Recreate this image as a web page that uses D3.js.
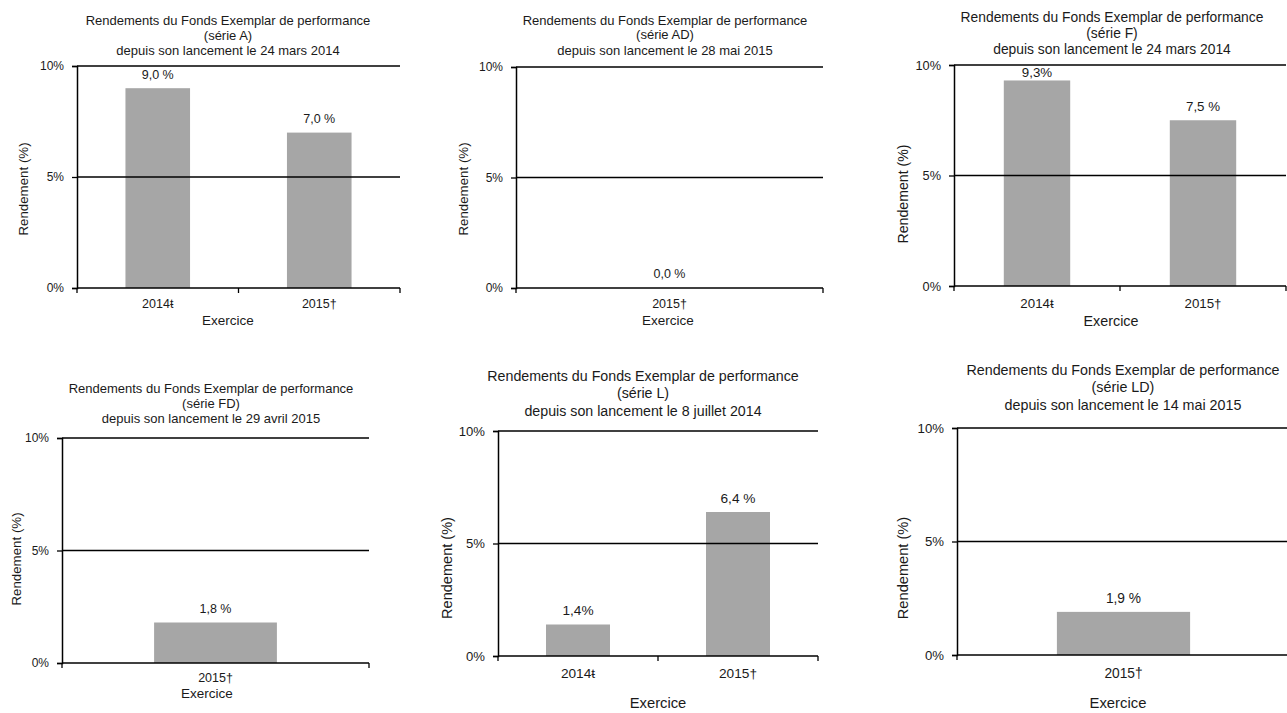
<!DOCTYPE html>
<html>
<head>
<meta charset="utf-8">
<script src="https://cdn.jsdelivr.net/npm/d3@7"></script>
<style>
  html, body { margin: 0; padding: 0; background: #fff; }
  svg { display: block; }
  text { font-family: "Liberation Sans", Arial, sans-serif; fill: #1a1a1a; }
</style>
</head>
<body>
<svg id="chart" width="1287" height="713"></svg>
<script>
// ---------- DATA ----------
const titleLine1 = "Rendements du Fonds Exemplar de performance";
const seriesNames = ["(série A)", "(série AD)", "(série F)", "(série FD)", "(série L)", "(série LD)"];
const launchDates = [
  "depuis son lancement le 24 mars 2014",
  "depuis son lancement le 28 mai 2015",
  "depuis son lancement le 24 mars 2014",
  "depuis son lancement le 29 avril 2015",
  "depuis son lancement le 8 juillet 2014",
  "depuis son lancement le 14 mai 2015"
];
const categoriesA  = ["2014ŧ", "2015†"];
const categoriesAD = ["2015†"];
const categoriesF  = ["2014ŧ", "2015†"];
const categoriesFD = ["2015†"];
const categoriesL  = ["2014ŧ", "2015†"];
const categoriesLD = ["2015†"];
const valuesA  = [9.0, 7.0];
const valuesAD = [0.0];
const valuesF  = [9.3, 7.5];
const valuesFD = [1.8];
const valuesL  = [1.4, 6.4];
const valuesLD = [1.9];
const labelsA  = ["9,0 %", "7,0 %"];
const labelsAD = ["0,0 %"];
const labelsF  = ["9,3%", "7,5 %"];
const labelsFD = ["1,8 %"];
const labelsL  = ["1,4%", "6,4 %"];
const labelsLD = ["1,9 %"];
const yTickValues = [0, 5, 10];
const yTickLabels = ["0%", "5%", "10%"];
const xAxisTitle = "Exercice";
const yAxisTitle = "Rendement (%)";

const panelCategories = [categoriesA, categoriesAD, categoriesF, categoriesFD, categoriesL, categoriesLD];
const panelValues = [valuesA, valuesAD, valuesF, valuesFD, valuesL, valuesLD];
const panelLabels = [labelsA, labelsAD, labelsF, labelsFD, labelsL, labelsLD];

// ---------- LAYOUT (style only) ----------
const layouts = [
  {x0:77,  x1:400,  y0:288, y1:66,  s:1.0,   tX:228,  tY:[20,35,50],    ylX:23,  ylY:189, catY:304, exX:228,  exY:320},
  {x0:516, x1:823,  y0:288, y1:67,  s:1.0,   tX:665,  tY:[20,34,50],    ylX:463, ylY:189, catY:304, exX:668,  exY:320},
  {x0:954, x1:1286, y0:286, y1:65,  s:1.065, tX:1112, tY:[17,33,49],    ylX:903, ylY:194, catY:303, exX:1111, exY:321},
  {x0:62,  x1:369,  y0:663, y1:438, s:1.0,   tX:211,  tY:[388,403,418], ylX:16,  ylY:559, catY:678, exX:207,  exY:693},
  {x0:498, x1:818,  y0:656, y1:431, s:1.095, tX:643,  tY:[376,393,411], ylX:447, ylY:568, catY:673, exX:658,  exY:703},
  {x0:957, x1:1290, y0:655, y1:428, s:1.1,   tX:1123, tY:[370,387,405], ylX:903, ylY:568, catY:673, exX:1118, exY:703}
];

const svg = d3.select("#chart");

layouts.forEach((L, i) => {
  const g = svg.append("g");
  const cats = panelCategories[i];
  const vals = panelValues[i];
  const labs = panelLabels[i];

  const x = d3.scaleBand().domain(cats).range([L.x0, L.x1]).paddingInner(0.6).paddingOuter(0.3);
  const y = d3.scaleLinear().domain([0, 10]).range([L.y0, L.y1]);

  // title
  const tLines = [titleLine1, seriesNames[i], launchDates[i]];
  g.selectAll("text.title").data(tLines).join("text")
    .attr("class", "title")
    .attr("x", L.tX)
    .attr("y", (d, k) => L.tY[k])
    .attr("dy", "0.35em")
    .attr("text-anchor", "middle")
    .style("font-size", (13 * L.s) + "px")
    .text(d => d);

  // bars
  g.selectAll("rect.bar").data(vals).join("rect")
    .attr("class", "bar")
    .attr("x", (d, k) => x(cats[k]))
    .attr("width", x.bandwidth())
    .attr("y", d => y(d))
    .attr("height", d => y(0) - y(d))
    .attr("fill", "#a6a6a6");

  // gridlines (5%, 10%)
  g.selectAll("line.grid").data(yTickValues.filter(v => v > 0)).join("line")
    .attr("class", "grid")
    .attr("x1", L.x0).attr("x2", L.x1)
    .attr("y1", d => y(d)).attr("y2", d => y(d))
    .attr("stroke", "#000").attr("stroke-width", 1.3);

  // y axis
  const yAxis = d3.axisLeft(y).tickValues(yTickValues)
    .tickFormat((d, k) => yTickLabels[k]).tickSize(5).tickPadding(8);
  const ya = g.append("g").attr("transform", `translate(${L.x0},0)`).call(yAxis);
  ya.select(".domain").attr("stroke", "#000").attr("stroke-width", 1.5);
  ya.selectAll(".tick line").attr("stroke", "#000").attr("stroke-width", 1.3);
  ya.selectAll(".tick text").style("font-size", (12 * L.s) + "px")
    .style("font-family", "'Liberation Sans', Arial, sans-serif").attr("fill", "#1a1a1a");

  // x axis: baseline + boundary ticks
  g.append("line")
    .attr("x1", L.x0).attr("x2", L.x1)
    .attr("y1", y(0)).attr("y2", y(0))
    .attr("stroke", "#000").attr("stroke-width", 1.5);
  const bounds = d3.range(cats.length + 1).map(k => L.x0 + k * (L.x1 - L.x0) / cats.length);
  g.selectAll("line.xtick").data(bounds).join("line")
    .attr("class", "xtick")
    .attr("x1", d => d).attr("x2", d => d)
    .attr("y1", y(0)).attr("y2", y(0) + 5)
    .attr("stroke", "#000").attr("stroke-width", 1.3);

  // category labels via axis
  const xAxis = d3.axisBottom(x).tickSize(0).tickPadding(0);
  const xa = g.append("g").attr("transform", `translate(0,${L.catY})`).call(xAxis);
  xa.select(".domain").remove();
  xa.selectAll(".tick text").attr("y", 0).attr("dy", "0.35em")
    .style("font-size", (12.5 * L.s) + "px")
    .style("font-family", "'Liberation Sans', Arial, sans-serif").attr("fill", "#1a1a1a");

  // value labels (squeezed between bar top and top gridline when room is short)
  const labelY = d => {
    const top = y(d);
    const above = top - 14;
    return above < y(10) + 8 ? (top + y(10)) / 2 : above;
  };
  g.selectAll("text.val").data(vals).join("text")
    .attr("class", "val")
    .attr("x", (d, k) => x(cats[k]) + x.bandwidth() / 2)
    .attr("y", d => labelY(d))
    .attr("dy", "0.35em")
    .attr("text-anchor", "middle")
    .style("font-size", (12.5 * L.s) + "px")
    .text((d, k) => labs[k]);

  // axis titles
  g.append("text")
    .attr("x", L.exX).attr("y", L.exY).attr("dy", "0.35em")
    .attr("text-anchor", "middle")
    .style("font-size", (13.5 * L.s) + "px")
    .text(xAxisTitle);
  g.append("text")
    .attr("transform", `translate(${L.ylX},${L.ylY}) rotate(-90)`)
    .attr("dy", "0.35em")
    .attr("text-anchor", "middle")
    .style("font-size", (13.3 * L.s) + "px")
    .text(yAxisTitle);
});
</script>
</body>
</html>
